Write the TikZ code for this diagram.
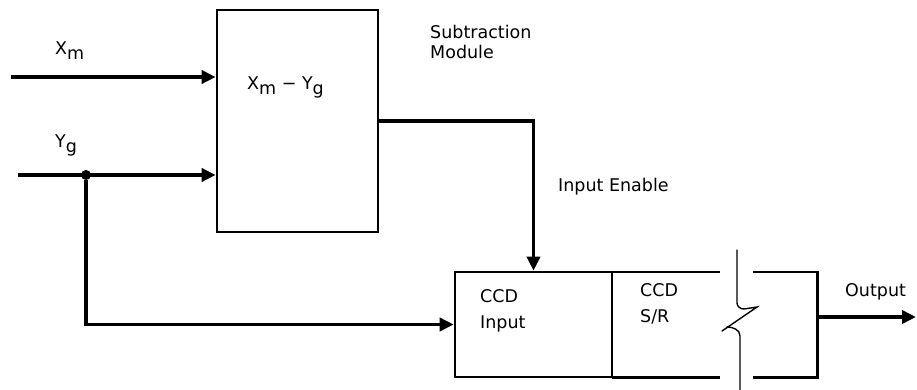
\documentclass[tikz,border=0pt]{standalone}
\usepackage{fontspec}
\setmainfont{DejaVu Sans}
\usetikzlibrary{positioning,arrows.meta,calc}
\newcommand{\lowsub}[1]{\raisebox{-0.5ex}{#1}}
\tikzset{
  box/.style={draw=black, line width=2.6pt, inner sep=0pt},
  edge/.style={draw=black, line width=2.6pt},
  lbl/.style={font=\fontsize{17.5}{20}\selectfont, inner sep=0pt, align=left},
  arr/.style={-{Triangle[length=14pt,width=13pt]}, line width=3.6pt, draw=black},
  brk/.style={line width=1.4pt, line cap=round, draw=black},
  dot/.style={circle, fill=black, inner sep=0pt, minimum size=10pt},
}
\begin{document}
\begin{tikzpicture}[x=1pt,y=-1pt]
    \fill[white] (0,0) rectangle (917,390);
    \useasboundingbox (0,0) rectangle (917,390);
    % subtraction module
    \node[box, minimum width=161pt, minimum height=222pt] (sub) at (297.5,121) {};
    \node[lbl, anchor=base west] (subtxt) at (247,90) {X\lowsub{m} − Y\lowsub{g}};
    \node[lbl, anchor=north west] (subname) at (430,25) {Subtraction\\Module};
    % inputs
    \coordinate (xmin) at (11,77);
    \coordinate (ygin) at (18,175);
    \node[lbl, anchor=base west] (xmlbl) at (55,55) {X\lowsub{m}};
    \node[lbl, anchor=base west] (yglbl) at (55,148) {Y\lowsub{g}};
    \node[dot] (tap) at (86,175) {};
    % CCD
    \node[box, minimum width=157pt, minimum height=105pt] (ccdin) at (533.5,324.5) {};
    \node[minimum width=205pt, minimum height=105pt, inner sep=0pt] (sr) at (714.5,324.5) {};
    \node[lbl, anchor=north west] (ccdintxt) at (480,289.5) {CCD\\[6pt]Input};
    \node[lbl, anchor=north west] (srtxt) at (640,283.5) {CCD\\[6pt]S/R};
    \draw[edge] (sr.north west) -- ++(108,0);
    \draw[edge] (sr.south west) -- ++(108,0);
    \draw[edge] ($(sr.north east)+(-64,0)$) -- (sr.north east) -- (sr.south east) -- ++(-64,0);
    % break
    \draw[brk] (737,250) -- (737,303) to[out=-90,in=180] (744,309) -- (757,307) -- (722,331);
    \draw[brk] (727,327) to[out=0,in=90] (740,336) -- (740,390);
    % connectors
    \draw[arr] (xmin) -- (sub.west |- xmin);
    \draw[arr] (ygin) -- (sub.west |- ygin);
    \draw[arr] (tap) |- (ccdin.west);
    \draw[arr] (sub.east) -| (ccdin.north);
    \node[lbl, anchor=base west] (enlbl) at (558,191) {Input Enable};
    \coordinate (out) at (916,317);
    \draw[arr] (sr.east |- out) -- (out);
    \node[lbl, anchor=base west] (outlbl) at (845,296) {Output};
\end{tikzpicture}
\end{document}
